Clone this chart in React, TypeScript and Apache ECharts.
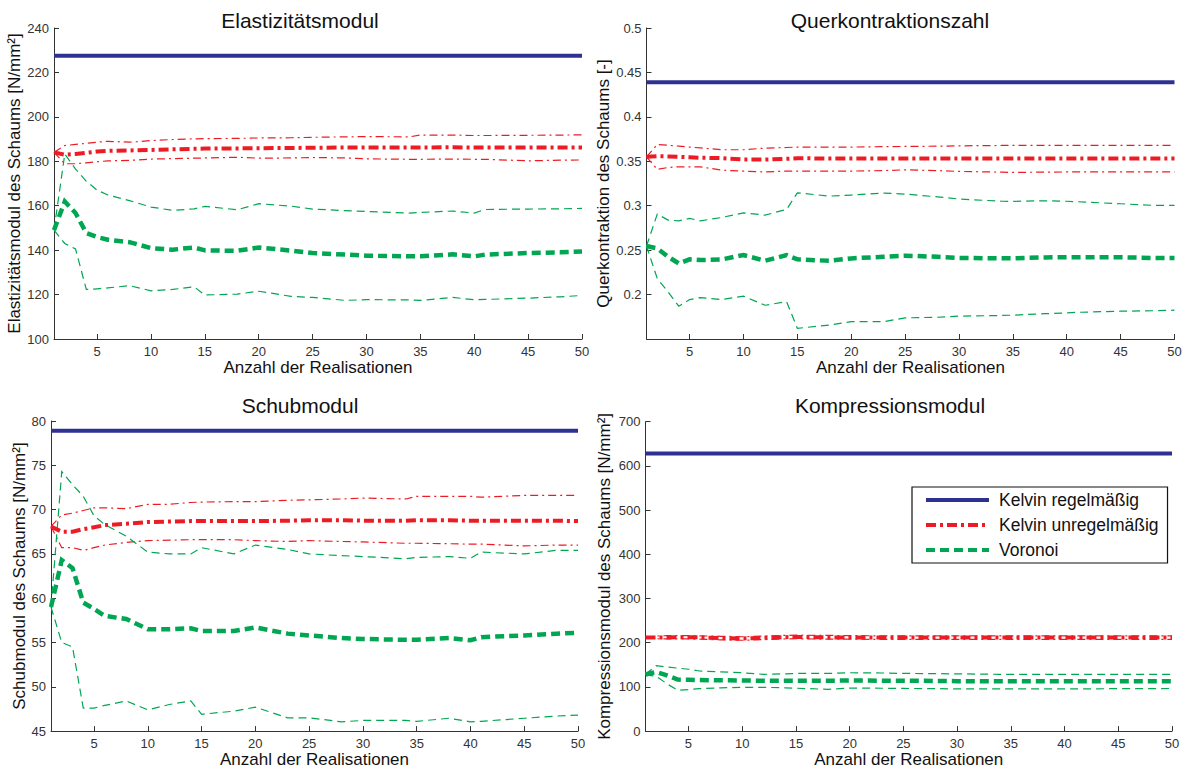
import React, { useEffect, useRef } from 'react';
import * as echarts from 'echarts';

// ---------- data ----------
const XS = [1, 2, 3, 4, 5, 6, 8, 10, 12, 14, 15, 18, 20, 23, 25, 28, 30, 34, 35, 38, 40, 41, 45, 48, 50];
const X_TICKS = [5, 10, 15, 20, 25, 30, 35, 40, 45, 50];

const TITLES = ['Elastizitätsmodul', 'Querkontraktionszahl', 'Schubmodul', 'Kompressionsmodul'];
const Y_NAMES = [
  'Elastizitätsmodul des Schaums [N/mm²]',
  'Querkontraktion des Schaums [-]',
  'Schubmodul des Schaums [N/mm²]',
  'Kompressionsmodul des Schaums [N/mm²]',
];
const X_NAME = 'Anzahl der Realisationen';
const LEGEND_NAMES = ['Kelvin regelmäßig', 'Kelvin unregelmäßig', 'Voronoi'];

const Y_MIN = [100, 0.15, 45, 0];
const Y_MAX = [240, 0.5, 80, 700];
const Y_STEP = [20, 0.05, 5, 100];

// Elastizitätsmodul
const E_REG = 227.5;
const E_IRR_MEAN = [184, 183, 183.3, 183.8, 184.4, 184.7, 184.9, 185.1, 185.4, 185.6, 185.7, 185.8, 185.9, 186, 186.1, 186.2, 186.2, 186.2, 186.2, 186.3, 186.2, 186.2, 186.2, 186.2, 186.2];
const E_IRR_HI = [184, 187.1, 187.6, 188.1, 188.6, 189, 188.6, 189.3, 189.8, 190.1, 190.2, 190.3, 190.5, 190.6, 190.8, 191, 191.1, 191, 191.8, 191.8, 191.6, 191.6, 191.7, 191.8, 191.9];
const E_IRR_LO = [184, 178.9, 178.9, 179.3, 179.8, 180.2, 180.4, 181, 181.2, 181.4, 181.5, 181.8, 181.4, 181.5, 181.7, 181.5, 181.1, 180.9, 180.9, 181, 180.9, 180.9, 180.2, 180.5, 180.6];
const E_VOR_MEAN = [149, 161.9, 156.7, 147.7, 145.9, 144.7, 143.6, 140.9, 140.2, 141.2, 139.9, 139.7, 141.2, 139.8, 138.7, 138, 137.5, 137.2, 137.2, 138.1, 137.2, 138, 138.7, 139, 139.4];
const E_VOR_HI = [149, 183.3, 176.5, 171, 167, 164.8, 162.3, 159.4, 157.9, 158.6, 159.7, 158.2, 160.9, 159.8, 158.5, 157.8, 157.4, 156.7, 157, 157.6, 156.7, 158.3, 158.5, 158.6, 158.8];
const E_VOR_LO = [149, 143, 140.5, 122.3, 122.6, 123, 124, 121.7, 122.3, 123.5, 119.8, 120.2, 121.5, 119.2, 118.7, 117.4, 117.7, 117.6, 117.4, 118.7, 117.7, 117.8, 118.4, 119, 119.6];

// Querkontraktionszahl
const Q_REG = 0.439;
const Q_IRR_MEAN = [0.355, 0.3558, 0.3555, 0.355, 0.3545, 0.354, 0.3535, 0.352, 0.352, 0.3528, 0.3535, 0.353, 0.353, 0.353, 0.353, 0.353, 0.353, 0.353, 0.353, 0.353, 0.353, 0.353, 0.353, 0.353, 0.353];
const Q_IRR_HI = [0.355, 0.369, 0.368, 0.367, 0.366, 0.365, 0.363, 0.363, 0.3648, 0.3655, 0.366, 0.366, 0.366, 0.3665, 0.3667, 0.367, 0.3674, 0.3678, 0.3678, 0.368, 0.368, 0.368, 0.368, 0.368, 0.368];
const Q_IRR_LO = [0.355, 0.3408, 0.343, 0.3438, 0.3438, 0.3438, 0.34, 0.3389, 0.338, 0.339, 0.339, 0.339, 0.339, 0.3395, 0.3404, 0.3395, 0.3386, 0.3378, 0.3375, 0.3378, 0.338, 0.338, 0.338, 0.338, 0.338];
const Q_VOR_MEAN = [0.2546, 0.252, 0.2426, 0.235, 0.2396, 0.2388, 0.2396, 0.2445, 0.238, 0.2445, 0.2396, 0.238, 0.2407, 0.2426, 0.2438, 0.2425, 0.2412, 0.2408, 0.2408, 0.2418, 0.242, 0.242, 0.242, 0.2412, 0.2412];
const Q_VOR_HI = [0.2546, 0.2906, 0.2838, 0.283, 0.2857, 0.283, 0.2868, 0.292, 0.2894, 0.2958, 0.3145, 0.3108, 0.312, 0.3142, 0.3131, 0.31, 0.3075, 0.305, 0.3049, 0.3056, 0.305, 0.3045, 0.3022, 0.3004, 0.3004];
const Q_VOR_LO = [0.2546, 0.218, 0.203, 0.1869, 0.1944, 0.1966, 0.1944, 0.1982, 0.188, 0.192, 0.162, 0.1657, 0.1695, 0.1695, 0.1738, 0.1745, 0.1757, 0.1765, 0.1768, 0.1785, 0.1794, 0.18, 0.1813, 0.1818, 0.1824];

// Schubmodul
const G_REG = 78.9;
const G_IRR_MEAN = [68.1, 67.5, 67.5, 67.8, 68.0, 68.25, 68.4, 68.6, 68.65, 68.7, 68.7, 68.7, 68.7, 68.75, 68.8, 68.8, 68.75, 68.75, 68.8, 68.8, 68.75, 68.75, 68.75, 68.75, 68.7];
const G_IRR_HI = [68.1, 69.4, 69.6, 69.9, 70.2, 70.2, 70.1, 70.6, 70.6, 70.8, 70.85, 70.9, 70.9, 71.05, 71.1, 71.2, 71.3, 71.2, 71.5, 71.5, 71.5, 71.4, 71.6, 71.6, 71.6];
const G_IRR_LO = [68.1, 65.7, 65.7, 65.4, 65.7, 66.0, 66.3, 66.5, 66.55, 66.6, 66.6, 66.6, 66.5, 66.4, 66.5, 66.4, 66.35, 66.2, 66.2, 66.15, 66.1, 66.1, 65.9, 66.0, 66.0];
const G_VOR_MEAN = [59.0, 64.3, 63.4, 59.5, 58.8, 58.0, 57.65, 56.5, 56.5, 56.6, 56.3, 56.3, 56.7, 56.0, 55.8, 55.5, 55.4, 55.3, 55.3, 55.5, 55.25, 55.6, 55.8, 56.0, 56.1];
const G_VOR_HI = [59.0, 74.3, 72.8, 71.5, 69.3, 68.3, 67.0, 65.2, 65.0, 65.0, 65.7, 65.0, 66.0, 65.5, 65.0, 64.8, 64.7, 64.45, 64.6, 64.7, 64.5, 65.2, 65.0, 65.4, 65.4];
const G_VOR_LO = [59.0, 55.0, 54.5, 47.6, 47.6, 47.9, 48.4, 47.4, 48.0, 48.4, 46.9, 47.25, 47.7, 46.5, 46.5, 46.05, 46.2, 46.2, 46.1, 46.45, 46.05, 46.1, 46.45, 46.7, 46.8];

// Kompressionsmodul
const K_REG = 628;
const K_IRR_MEAN = [212, 212, 212, 212.5, 212.5, 212, 210.5, 209.5, 211, 212.5, 213, 212, 212, 211.5, 211.5, 211.5, 211.5, 211.5, 211.5, 211.5, 211.5, 211.5, 211.5, 211.5, 211.5];
const K_IRR_HI = [212, 215, 216, 216, 216, 215.5, 214.5, 213.5, 215, 216.5, 217, 216.5, 216, 215.5, 215.5, 215.5, 215.5, 215.5, 215.5, 215.5, 215.5, 215.5, 215.5, 215.5, 215.5];
const K_IRR_LO = [212, 209, 208.5, 208.5, 208.5, 208, 206.5, 205.5, 207, 208.5, 209, 208, 208, 207.5, 207.5, 207.5, 207.5, 207.5, 207.5, 207.5, 207.5, 207.5, 207.5, 207.5, 207.5];
const K_VOR_MEAN = [128, 134, 126, 116.5, 116, 115.5, 115, 114.5, 114, 114, 114, 114, 114.5, 114, 114, 113.5, 113, 113, 113, 113, 113, 113, 113, 113, 113];
const K_VOR_HI = [129, 148, 145, 142.5, 140, 136, 134, 132, 128.5, 129.5, 130.5, 130.5, 132, 131.5, 130.5, 130, 129.5, 128.5, 128.5, 128.5, 128.5, 128.5, 128.5, 128.5, 128.5];
const K_VOR_LO = [127, 124, 107, 92.5, 94, 96, 98, 99, 99, 98, 97, 94.5, 97.5, 97, 96.5, 96, 95.5, 95.5, 95.5, 95.5, 95.5, 95.5, 96, 96, 96.5];

// ---------- layout / style ----------
const FONT = "'Liberation Sans', Arial, Helvetica, sans-serif";
const BLUE = '#2E3192';
const RED = '#ED1C24';
const GREEN = '#00A651';
const AXIS_COLOR = '#333';

const GRIDS = [
  { left: 54, top: 28, width: 528, height: 311 },
  { left: 646.5, top: 28, width: 528, height: 311 },
  { left: 51, top: 421, width: 527, height: 312 },
  { left: 645.5, top: 421.7, width: 526.5, height: 311 },
];
const TITLE_POS = [
  { x: 295, y: 5 },
  { x: 885, y: 5 },
  { x: 295, y: 390 },
  { x: 885, y: 390 },
];
const Y_NAME_GAP = [27, 32, 23, 33];
const X_NAME_GAP = [20, 20, 18, 18];

const PANELS = [
  { reg: E_REG, im: E_IRR_MEAN, ih: E_IRR_HI, il: E_IRR_LO, vm: E_VOR_MEAN, vh: E_VOR_HI, vl: E_VOR_LO },
  { reg: Q_REG, im: Q_IRR_MEAN, ih: Q_IRR_HI, il: Q_IRR_LO, vm: Q_VOR_MEAN, vh: Q_VOR_HI, vl: Q_VOR_LO },
  { reg: G_REG, im: G_IRR_MEAN, ih: G_IRR_HI, il: G_IRR_LO, vm: G_VOR_MEAN, vh: G_VOR_HI, vl: G_VOR_LO },
  { reg: K_REG, im: K_IRR_MEAN, ih: K_IRR_HI, il: K_IRR_LO, vm: K_VOR_MEAN, vh: K_VOR_HI, vl: K_VOR_LO },
];

const pts = (ys: number[]) => XS.map((x, i) => [x, ys[i]]);

function line(name: string, idx: number, data: any[], color: string, width: number, type: any, z: number) {
  return {
    name,
    type: 'line',
    xAxisIndex: idx,
    yAxisIndex: idx,
    data,
    symbol: 'none',
    showSymbol: false,
    clip: true,
    z,
    lineStyle: { color, width, type, cap: 'butt', join: 'miter' },
    itemStyle: { color },
    emphasis: { disabled: true },
  };
}

function buildOption() {
  const series: any[] = [];
  PANELS.forEach((p, i) => {
    series.push(line(LEGEND_NAMES[0], i, [[XS[0], p.reg], [XS[XS.length - 1], p.reg]], BLUE, 4, 'solid', 5));
    series.push(line(LEGEND_NAMES[1], i, pts(p.im), RED, 4, [10, 4, 3, 4], 4));
    series.push(line(LEGEND_NAMES[2], i, pts(p.vm), GREEN, 4.5, [9, 5], 4));
    series.push(line('Kelvin unregelmäßig max', i, pts(p.ih), RED, 1.2, [8, 4, 2, 4], 3));
    series.push(line('Kelvin unregelmäßig min', i, pts(p.il), RED, 1.2, [8, 4, 2, 4], 3));
    series.push(line('Voronoi max', i, pts(p.vh), GREEN, 1.2, [8, 5], 3));
    series.push(line('Voronoi min', i, pts(p.vl), GREEN, 1.2, [8, 5], 3));
  });

  return {
    animation: false,
    backgroundColor: '#fff',
    textStyle: { fontFamily: FONT },
    title: TITLES.map((t, i) => ({
      text: t,
      left: TITLE_POS[i].x,
      top: TITLE_POS[i].y,
      textAlign: 'center',
      textStyle: { fontSize: 21, fontWeight: 'normal', color: '#111', fontFamily: FONT },
    })),
    legend: {
      data: LEGEND_NAMES,
      orient: 'vertical',
      left: 912,
      top: 487,
      padding: [4, 9, 4, 12],
      itemWidth: 63,
      itemHeight: 14,
      itemGap: 7,
      selectedMode: false,
      borderColor: '#111',
      borderWidth: 1.2,
      backgroundColor: '#fff',
      lineStyle: { width: 4 },
      itemStyle: { opacity: 0, borderWidth: 0, color: 'rgba(0,0,0,0)' },
      textStyle: { fontSize: 17.5, color: '#111', fontFamily: FONT, lineHeight: 18, padding: [0, 0, 0, 5] },
    },
    grid: GRIDS.map((g) => ({ ...g, containLabel: false })),
    xAxis: GRIDS.map((_, i) => ({
      type: 'value',
      gridIndex: i,
      min: 1,
      max: 50,
      name: X_NAME,
      nameLocation: 'middle',
      nameGap: X_NAME_GAP[i],
      nameTextStyle: { fontSize: 17, color: '#111', fontFamily: FONT },
      axisLine: { show: true, onZero: false, lineStyle: { color: AXIS_COLOR, width: 1 } },
      axisTick: { show: true, inside: true, length: 5, customValues: X_TICKS, lineStyle: { color: AXIS_COLOR } },
      axisLabel: { customValues: X_TICKS, margin: 6, fontSize: 13, color: '#333', fontFamily: FONT },
      splitLine: { show: false },
    })),
    yAxis: GRIDS.map((_, i) => ({
      type: 'value',
      gridIndex: i,
      min: Y_MIN[i],
      max: Y_MAX[i],
      interval: Y_STEP[i],
      name: Y_NAMES[i],
      nameLocation: 'middle',
      nameGap: Y_NAME_GAP[i],
      nameTextStyle: { fontSize: 17, color: '#111', fontFamily: FONT },
      axisLine: { show: true, onZero: false, lineStyle: { color: AXIS_COLOR, width: 1 } },
      axisTick: { show: true, inside: true, length: 5, lineStyle: { color: AXIS_COLOR } },
      axisLabel: {
        margin: 5,
        fontSize: 13,
        color: '#333',
        fontFamily: FONT,
        showMinLabel: i !== 1,
        formatter: (v: number) => String(Math.round(v * 1000) / 1000),
      },
      splitLine: { show: false },
    })),
    series,
  };
}

export default function App() {
  const ref = useRef<HTMLDivElement>(null);
  useEffect(() => {
    if (!ref.current) return;
    const chart = echarts.init(ref.current, null, { renderer: 'svg' });
    chart.setOption(buildOption() as any);
    return () => chart.dispose();
  }, []);
  return (
    <div
      ref={ref}
      style={{ position: 'fixed', left: 0, top: 0, width: 1185, height: 769, background: '#fff' }}
    />
  );
}
